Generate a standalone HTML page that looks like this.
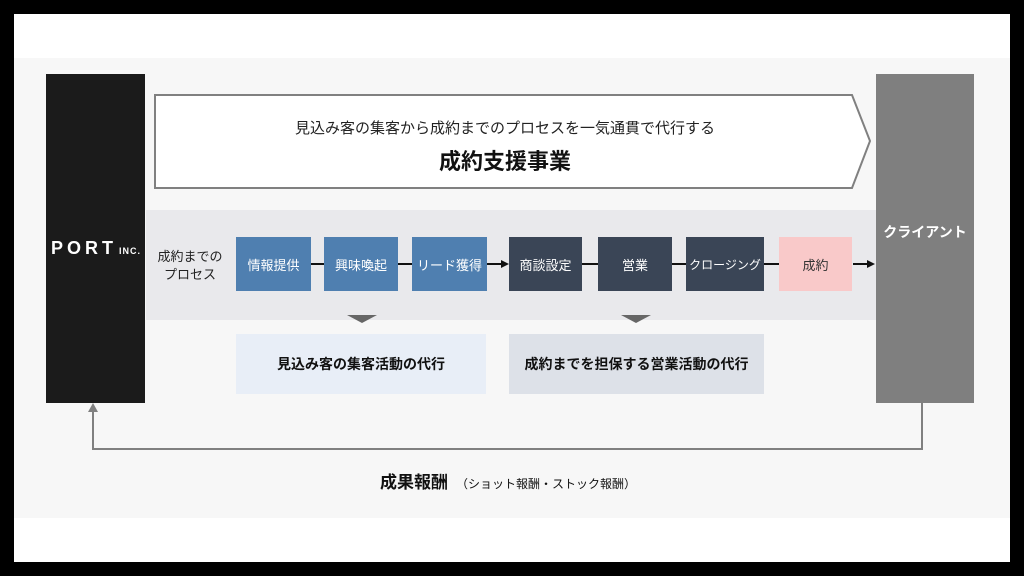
<!DOCTYPE html>
<html><head><meta charset="utf-8"><style>
body{margin:0;width:1024px;height:576px;background:#000;position:relative;overflow:hidden;font-family:"Liberation Sans","Noto Sans CJK JP",sans-serif}
div{position:absolute;box-sizing:border-box}
.b{display:flex;align-items:center;justify-content:center;color:#fff;font-size:13px}
.bl{background:#4f7fb0}.dk{background:#3a4556}
.ln{height:2px;background:#111;top:263px}
</style></head><body>
<div style="left:14px;top:14px;width:996px;height:548px;background:#fff"></div>
<div style="left:14px;top:58px;width:996px;height:460px;background:#f7f7f7"></div>
<div style="left:146px;top:210px;width:730px;height:110px;background:#e9e9ec"></div>
<svg style="position:absolute;left:0;top:0" width="1024" height="576">
<polygon points="155,95 852,95 870,141 852,188 155,188" fill="#fff" stroke="#808080" stroke-width="2"/>
<polygon points="347,315 377,315 362,323" fill="#666"/>
<polygon points="621,315 651,315 636,323" fill="#666"/>
<polyline points="922,403 922,449 93,449 93,410" fill="none" stroke="#808080" stroke-width="2"/>
<polygon points="88,412 98,412 93,403" fill="#808080"/>
<line x1="487" y1="264" x2="503" y2="264" stroke="#111" stroke-width="2"/>
<polygon points="501,260 509,264 501,268" fill="#111"/>
<line x1="853" y1="264" x2="869" y2="264" stroke="#111" stroke-width="2"/>
<polygon points="867,260 875,264 867,268" fill="#111"/>
</svg>
<div style="left:46px;top:74px;width:99px;height:329px;background:#1b1b1b"></div>
<div style="left:51px;top:238px;color:#fff;font-size:18px;font-weight:bold;letter-spacing:4px">PORT<span style="font-size:9px;letter-spacing:1px;margin-left:2px">INC.</span></div>
<div style="left:876px;top:74px;width:98px;height:329px;background:#7f7f7f;color:#fff;font-weight:bold;font-size:14px;text-align:center;padding-top:148px">クライアント</div>
<div style="left:155px;top:117px;width:700px;text-align:center;font-size:15px;color:#222">見込み客の集客から成約までのプロセスを一気通貫で代行する</div>
<div style="left:155px;top:144px;width:700px;text-align:center;font-size:22px;font-weight:bold;color:#111">成約支援事業</div>
<div style="left:150px;top:248px;width:80px;text-align:center;font-size:13px;line-height:18px;color:#222">成約までの<br>プロセス</div>
<div class="ln" style="left:310px;width:20px"></div>
<div class="ln" style="left:396px;width:20px"></div>
<div class="ln" style="left:580px;width:20px"></div>
<div class="ln" style="left:670px;width:20px"></div>
<div class="ln" style="left:762px;width:20px"></div>
<div class="b bl" style="left:236px;top:237px;width:75px;height:54px">情報提供</div>
<div class="b bl" style="left:324px;top:237px;width:74px;height:54px">興味喚起</div>
<div class="b bl" style="left:412px;top:237px;width:75px;height:54px">リード獲得</div>
<div class="b dk" style="left:509px;top:237px;width:73px;height:54px">商談設定</div>
<div class="b dk" style="left:598px;top:237px;width:74px;height:54px">営業</div>
<div class="b dk" style="left:686px;top:237px;width:78px;height:54px;font-size:12px">クロージング</div>
<div class="b" style="left:779px;top:237px;width:73px;height:54px;background:#f9c9c9;color:#333">成約</div>
<div class="b" style="left:236px;top:334px;width:250px;height:60px;background:#e8eef7;color:#111;font-weight:bold;font-size:14px">見込み客の集客活動の代行</div>
<div class="b" style="left:509px;top:334px;width:255px;height:60px;background:#dde1e8;color:#111;font-weight:bold;font-size:14px">成約までを担保する営業活動の代行</div>
<div style="left:380px;top:468px;font-size:17px;font-weight:bold;color:#111;white-space:nowrap">成果報酬<span style="font-size:12px;font-weight:normal;margin-left:8px">（ショット報酬・ストック報酬）</span></div>
</body></html>
